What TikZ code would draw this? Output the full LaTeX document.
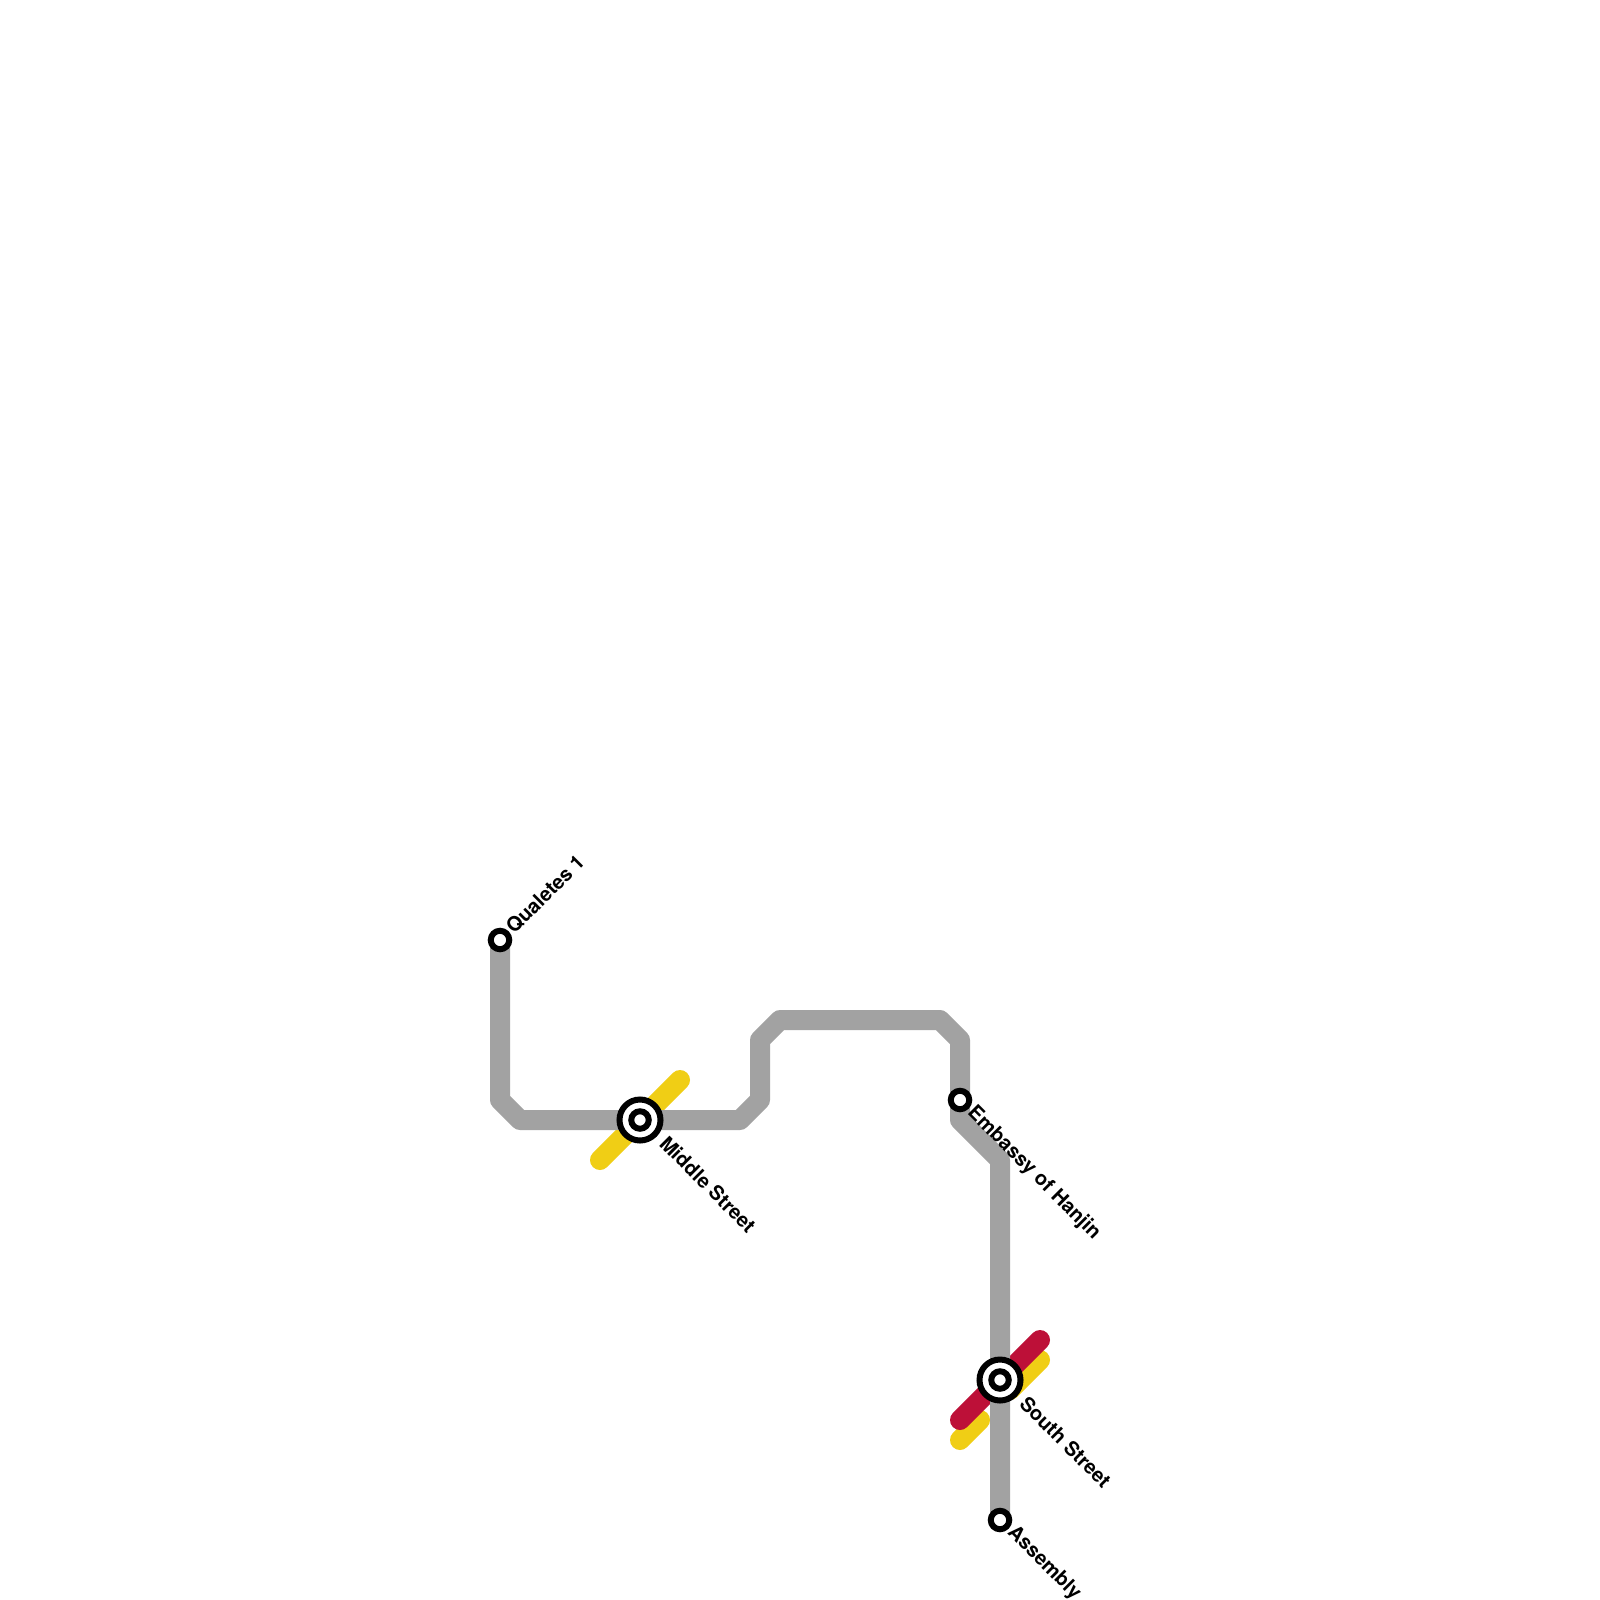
\documentclass[tikz,border=0pt]{standalone}
\usepackage{fontspec}
\setmainfont{TeX Gyre Heros}
\definecolor{linegray}{HTML}{A2A2A2}
\definecolor{lineyellow}{HTML}{F0CE15}
\definecolor{linered}{HTML}{BD1038}
\tikzset{
  metro/.style={line width=20pt,line cap=round,line join=round},
  small/.style={circle,draw=black,fill=white,line width=6pt,minimum size=18.5pt,inner sep=0pt,outer sep=0pt},
  ring/.style={circle,draw=black,fill=white,line width=6pt,minimum size=41pt,inner sep=0pt,outer sep=0pt},
  core/.style={circle,draw=black,fill=white,line width=6pt,minimum size=17.5pt,inner sep=0pt,outer sep=0pt},
  lab/.style={anchor=west,inner sep=0pt,outer sep=0pt,font=\fontsize{20}{20}\selectfont\bfseries,text=black},
}
\begin{document}
\begin{tikzpicture}[x=1pt,y=-1pt]
\useasboundingbox (0,0) rectangle (1600,1600);
\fill[white] (0,0) rectangle (1600,1600);
\coordinate (g1) at (500,1100);
\coordinate (g2) at (520,1120);
\coordinate (g3) at (740,1120);
\coordinate (g4) at (760,1100);
\coordinate (g5) at (760,1040);
\coordinate (g6) at (780,1020);
\coordinate (g7) at (940,1020);
\coordinate (g8) at (960,1040);
\coordinate (g9) at (960,1120);
\coordinate (g10) at (1000,1160);
\coordinate (y1a) at (680,1080);
\coordinate (y1b) at (600,1160);
\coordinate (y2a) at (1040,1360);
\coordinate (y2b) at (1010,1390);
\coordinate (y3a) at (980,1420);
\coordinate (y3b) at (960,1440);
\coordinate (r1a) at (1040,1340);
\coordinate (r1b) at (960,1420);
\coordinate (qp) at (500,940);
\coordinate (mp) at (640,1120);
\coordinate (ep) at (960,1100);
\coordinate (sp) at (1000,1380);
\coordinate (ap) at (1000,1520);
\draw[metro,lineyellow] (y1a) -- (y1b);
\draw[metro,lineyellow] (y2a) -- (y2b);
\draw[metro,lineyellow] (y3a) -- (y3b);
\draw[metro,linered] (r1a) -- (r1b);
\draw[metro,linegray] (qp) -- (g1) -- (g2) -- (g3) -- (g4) -- (g5) -- (g6) -- (g7) -- (g8) -- (g9) -- (g10) -- (ap);
\node[small] (q) at (qp) {};
\node[small] (e) at (ep) {};
\node[small] (a) at (ap) {};
\node[ring] (m) at (mp) {};
\node[core] (mc) at (mp) {};
\node[ring] (s) at (sp) {};
\node[core] (sc) at (sp) {};
\node[lab,rotate=45] (tq) at (509.5,930) {Qualetes 1};
\node[lab,rotate=-45] (tm) at (663.5,1140) {Middle Street};
\node[lab,rotate=-45] (te) at (970.5,1110) {Embassy of Hanjin};
\node[lab,rotate=-45] (ts) at (1023.5,1400) {South Street};
\node[lab,rotate=-45] (ta) at (1010.5,1530) {Assembly};
\end{tikzpicture}
\end{document}
